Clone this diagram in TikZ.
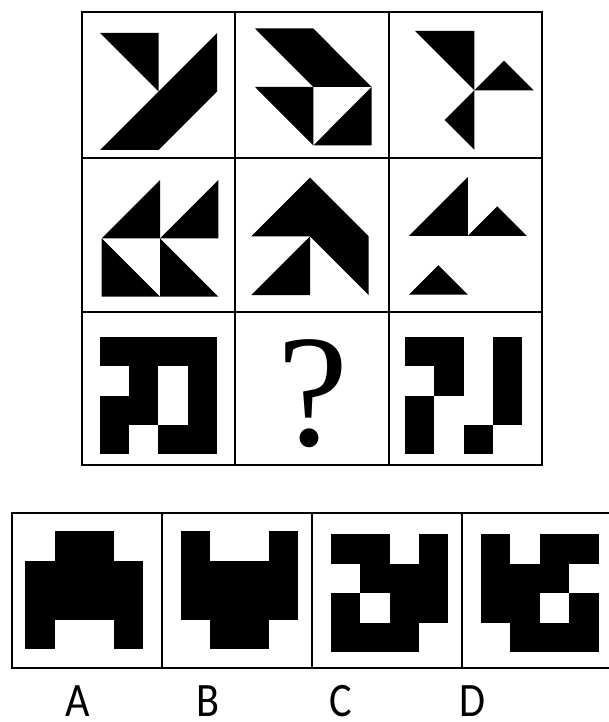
\documentclass[tikz,border=0pt]{standalone}
\usepackage{fontspec}
\newfontfamily\labelfont{Carlito}
\newfontfamily\qfont{Liberation Serif}
\begin{document}
\begin{tikzpicture}[x=1pt,y=-1pt,
  frame/.style={line width=2.6pt,draw=black},
  blk/.style={fill=black},
  lab/.style={anchor=base,inner sep=0pt,text depth=0pt,xscale=0.88,font=\labelfont\fontsize{48}{48}\selectfont}]
\useasboundingbox (0,0) rectangle (608,722);
\fill[white] (0,0) rectangle (608,722);
% ---------- main grid ----------
\draw[frame] (82,12) rectangle (542,465);
\draw[frame] (235,12) -- (235,465);
\draw[frame] (389,12) -- (389,465);
\draw[frame] (82,158) -- (542,158);
\draw[frame] (82,312) -- (542,312);
% cell 1
\begin{scope}[shift={(100,33)},x=58.5pt,y=-58.5pt]
  \fill[blk] (0,0)--(1,0)--(1,1)--cycle;
  \fill[blk] (0,2)--(2,0)--(2,1)--(1,2)--cycle;
\end{scope}
% cell 2
\begin{scope}[shift={(255,28.5)},x=58.3pt,y=-58.5pt]
  \fill[blk] (0,0)--(1,0)--(2,1)--(1,1)--cycle;
  \fill[blk] (0,1)--(1,1)--(1,2)--cycle;
  \fill[blk] (2,1)--(2,2)--(1,2)--cycle;
\end{scope}
% cell 3
\begin{scope}[shift={(415,31)},x=59.3pt,y=-59.3pt]
  \fill[blk] (0,0)--(1,0)--(1,1)--cycle;
  \fill[blk] (1,1)--(1.5,0.5)--(2,1)--cycle;
  \fill[blk] (1,1)--(0.5,1.5)--(1,2)--cycle;
\end{scope}
% cell 4
\begin{scope}[shift={(101.7,180)},x=58.3pt,y=-58.3pt]
  \fill[blk] (0,1)--(1,0)--(1,1)--cycle;
  \fill[blk] (1,1)--(2,0)--(2,1)--cycle;
  \fill[blk] (0,1)--(0,2)--(1,2)--cycle;
  \fill[blk] (1,1)--(1,2)--(2,2)--cycle;
\end{scope}
% cell 5
\begin{scope}[shift={(251.3,177.7)},x=58.7pt,y=-58.7pt]
  \fill[blk] (0,1)--(1,0)--(2,1)--(2,2)--(1,1)--cycle;
  \fill[blk] (0,2)--(1,1)--(1,2)--cycle;
\end{scope}
% cell 6
\begin{scope}[shift={(409,177)},x=58.8pt,y=-58.8pt]
  \fill[blk] (0,1)--(1,0)--(1,1)--cycle;
  \fill[blk] (1,1)--(1.5,0.5)--(2,1)--cycle;
  \fill[blk] (0,2)--(0.5,1.5)--(1,2)--cycle;
\end{scope}
% cell 7
\begin{scope}[shift={(100,336.7)},x=29.2pt,y=-29.4pt]
  \fill[blk] (0,0) rectangle (4,1);
  \fill[blk] (1,1) rectangle (2,3);
  \fill[blk] (3,1) rectangle (4,4);
  \fill[blk] (0,2) rectangle (1,4);
  \fill[blk] (2,3) rectangle (3,4);
\end{scope}
% cell 8
\node[anchor=base,inner sep=0pt,font=\qfont\fontsize{160}{160}\selectfont] (qm) at (313,445) {?};
% cell 9
\begin{scope}[shift={(405,336.7)},x=29.3pt,y=-29.4pt]
  \fill[blk] (0,0) rectangle (2,1);
  \fill[blk] (1,1) rectangle (2,2);
  \fill[blk] (3,0) rectangle (4,3);
  \fill[blk] (0,2) rectangle (1,4);
  \fill[blk] (2,3) rectangle (3,4);
\end{scope}
% ---------- options ----------
\draw[frame] (12,513) rectangle (612,668);
\draw[frame] (162,513) -- (162,668);
\draw[frame] (312,513) -- (312,668);
\draw[frame] (462,513) -- (462,668);
% A
\begin{scope}[shift={(25,531)},x=29.6pt,y=-29.5pt]
  \fill[blk] (1,0) rectangle (3,1);
  \fill[blk] (0,1) rectangle (4,3);
  \fill[blk] (0,3) rectangle (1,4);
  \fill[blk] (3,3) rectangle (4,4);
\end{scope}
% B
\begin{scope}[shift={(180.7,531)},x=29.3pt,y=-29.5pt]
  \fill[blk] (0,0) rectangle (1,1);
  \fill[blk] (3,0) rectangle (4,1);
  \fill[blk] (0,1) rectangle (4,3);
  \fill[blk] (1,3) rectangle (3,4);
\end{scope}
% C
\begin{scope}[shift={(330.7,534.3)},x=29.4pt,y=-29.4pt]
  \fill[blk] (0,0) rectangle (2,1);
  \fill[blk] (3,0) rectangle (4,3);
  \fill[blk] (1,1) rectangle (3,2);
  \fill[blk] (0,2) rectangle (1,4);
  \fill[blk] (2,2) rectangle (3,4);
  \fill[blk] (1,3) rectangle (2,4);
\end{scope}
% D
\begin{scope}[shift={(481,534.3)},x=29.4pt,y=-29.4pt]
  \fill[blk] (0,0) rectangle (1,3);
  \fill[blk] (2,0) rectangle (4,1);
  \fill[blk] (1,1) rectangle (3,2);
  \fill[blk] (1,2) rectangle (2,4);
  \fill[blk] (3,2) rectangle (4,4);
  \fill[blk] (2,3) rectangle (3,4);
\end{scope}
% labels
\node[lab] (la) at (77.5,716) {A};
\node[lab] (lb) at (208.3,716) {B};
\node[lab] (lc) at (340.8,716) {C};
\node[lab] (ld) at (472.5,716) {D};
\end{tikzpicture}
\end{document}
